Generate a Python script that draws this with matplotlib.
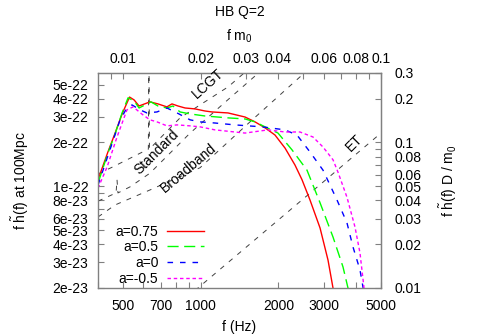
import matplotlib
matplotlib.use("Agg")
import matplotlib.pyplot as plt
from matplotlib.ticker import FixedLocator, FixedFormatter, NullFormatter

plt.rcParams['font.family'] = ['Liberation Sans', 'DejaVu Sans']
plt.rcParams['font.size'] = 10
plt.rcParams['mathtext.fontset'] = 'custom'
plt.rcParams['mathtext.rm'] = 'Liberation Sans'
plt.rcParams['mathtext.it'] = 'Liberation Sans'
plt.rcParams['lines.scale_dashes'] = False

# waveforms, f (Hz) vs f*h(f) at 100 Mpc
f_a075 = [400, 437, 466, 496, 530, 552, 577, 636, 683, 740, 774, 817, 870, 951, 1039, 1106,
          1276, 1486, 1624, 1776, 1941, 2123, 2320, 2470, 2653, 2902, 3116, 3258, 3350]
h_a075 = [1.11e-22, 1.72e-22, 2.32e-22, 3.14e-22, 4.1e-22, 3.92e-22, 3.56e-22, 3.80e-22, 3.68e-22,
          3.51e-22, 3.68e-22, 3.56e-22, 3.45e-22, 3.40e-22, 3.29e-22, 3.24e-22, 3.19e-22, 2.99e-22,
          2.77e-22, 2.52e-22, 2.25e-22, 1.83e-22, 1.40e-22, 1.11e-22, 8.05e-23, 5.17e-23, 3.11e-23,
          2.0e-23, 1.7e-23]

f_a05 = [400, 437, 466, 496, 523, 552, 577, 642, 683, 740, 781, 832, 910, 1039, 1276, 1486,
         1624, 1776, 1994, 2259, 2583, 2902, 3258, 3562, 3724, 3800]
h_a05 = [1.05e-22, 1.69e-22, 2.29e-22, 3.19e-22, 4.05e-22, 3.86e-22, 3.45e-22, 3.80e-22, 3.56e-22,
         3.45e-22, 3.56e-22, 3.24e-22, 3.14e-22, 3.04e-22, 2.95e-22, 2.90e-22, 2.77e-22, 2.56e-22,
         2.32e-22, 1.78e-22, 1.29e-22, 7.7e-23, 4.48e-23, 2.79e-23, 2.0e-23, 1.7e-23]

f_a0 = [400, 445, 487, 518, 542, 582, 619, 677, 740, 810, 910, 994, 1136, 1358, 1729, 2123,
        2362, 2653, 2980, 3376, 3691, 3894, 4145, 4257, 4320]
h_a0 = [1.02e-22, 1.78e-22, 2.86e-22, 3.45e-22, 3.62e-22, 3.35e-22, 3.19e-22, 3.24e-22, 3.45e-22,
        3.19e-22, 2.86e-22, 2.77e-22, 2.72e-22, 2.64e-22, 2.56e-22, 2.44e-22, 2.25e-22, 1.72e-22,
        1.29e-22, 8.05e-23, 5.6e-23, 3.83e-23, 2.66e-23, 2.03e-23, 1.7e-23]

f_am05 = [400, 434, 474, 518, 547, 598, 636, 677, 740, 810, 910, 994, 1136, 1486, 1824, 2123,
          2426, 2725, 2980, 3258, 3406, 3691, 3964, 4145, 4297, 4350]
h_am05 = [9.7e-23, 1.36e-22, 2.18e-22, 3.35e-22, 3.51e-22, 3.09e-22, 2.86e-22, 2.77e-22, 2.60e-22,
          2.64e-22, 2.60e-22, 2.56e-22, 2.44e-22, 2.32e-22, 2.44e-22, 2.36e-22, 2.36e-22, 2.18e-22,
          1.86e-22, 1.52e-22, 1.25e-22, 8.4e-23, 5.25e-23, 3.48e-23, 2.0e-23, 1.7e-23]

# detector noise curves
f_lcgt = [400, 457, 619, 627, 630, 633, 832, 994, 1276, 1553]
h_lcgt = [1.215e-22, 1.36e-22, 1.78e-22, 1.8e-22, 1e-21, 1.8e-22, 2.95e-22, 3.62e-22, 4.81e-22, 6.5e-22]

f_std = [400, 470, 474, 478, 532, 636, 910, 1300, 1729]
h_std = [7.9e-23, 9.0e-23, 1.11e-22, 9.0e-23, 9.9e-23, 1.23e-22, 2.32e-22, 4.05e-22, 6.3e-22]

f_bb = [400, 466, 636, 994, 1553, 2426, 2606]
h_bb = [6.15e-23, 7.44e-23, 9.43e-23, 1.34e-22, 2.77e-22, 5.64e-22, 6.3e-22]

f_et = [950, 5000]
h_et = [1.92e-23, 2.32e-22]

m0 = 2e-5        # s
scale_r = 5e20   # D/m0

xt_major = [500, 700, 1000, 2000, 3000, 5000]
xt_minor = [400, 600, 800, 900, 4000]
yt_major = [2e-23, 3e-23, 4e-23, 5e-23, 6e-23, 8e-23, 1e-22, 2e-22, 3e-22, 4e-22, 5e-22]
yt_labels = ['2e-23', '3e-23', '4e-23', '5e-23', '6e-23', '8e-23', '1e-22', '2e-22', '3e-22', '4e-22', '5e-22']
yt_minor = [7e-23, 9e-23]
top_major = [0.01, 0.02, 0.03, 0.04, 0.06, 0.08, 0.1]
top_minor = [0.009, 0.05, 0.07, 0.09]
right_major = [0.01, 0.02, 0.03, 0.04, 0.05, 0.06, 0.08, 0.1, 0.2, 0.3]
right_minor = [0.07, 0.09]

gray = '#808080'

fig = plt.figure(figsize=(4.8, 3.36), dpi=100)
ax = fig.add_axes([98/480, 48/336, 283/480, 215/336])
ax.set_xscale('log')
ax.set_yscale('log')

nkw = dict(color='#404040', lw=0.7, dashes=(3.5, 4.5))
ax.plot(f_lcgt, h_lcgt, **nkw)
ax.plot(f_std, h_std, **nkw)
ax.plot(f_bb, h_bb, **nkw)
ax.plot(f_et, h_et, **nkw)

ax.plot(f_a075, h_a075, color='#ff0000', lw=1.0, label='a=0.75')
ax.plot(f_a05, h_a05, color='#00ff00', lw=1.0, dashes=(8, 4), label='a=0.5')
ax.plot(f_a0, h_a0, color='#0000ff', lw=1.0, dashes=(4, 5), label='a=0')
ax.plot(f_am05, h_am05, color='#ff00ff', lw=1.0, dashes=(2.5, 2), label='a=-0.5')

ax.text(1068, 5.05e-22, 'LCGT', rotation=42, ha='center', va='center', rotation_mode='anchor')
ax.text(677, 1.72e-22, 'Standard', rotation=45, ha='center', va='center', rotation_mode='anchor')
ax.text(900, 1.34e-22, 'Broadband', rotation=40, ha='center', va='center', rotation_mode='anchor')
ax.text(3929, 1.98e-22, 'ET', rotation=45, ha='center', va='center', rotation_mode='anchor')

ax.set_xlim(400, 5000)
ax.set_ylim(2e-23, 6e-22)

ax.xaxis.set_major_locator(FixedLocator(xt_major))
ax.xaxis.set_major_formatter(FixedFormatter([str(v) for v in xt_major]))
ax.xaxis.set_minor_locator(FixedLocator(xt_minor))
ax.xaxis.set_minor_formatter(NullFormatter())
ax.yaxis.set_major_locator(FixedLocator(yt_major))
ax.yaxis.set_major_formatter(FixedFormatter(yt_labels))
ax.yaxis.set_minor_locator(FixedLocator(yt_minor))
ax.yaxis.set_minor_formatter(NullFormatter())
ax.tick_params(which='both', direction='in', length=4, width=0.8, color=gray, labelsize=10)
ax.tick_params(axis='x', which='both', pad=8)
ax.tick_params(axis='y', which='both', pad=7)
ax.tick_params(top=False, right=False)
for s in ax.spines.values():
    s.set_color(gray)
    s.set_linewidth(1.0)

ax.set_xlabel('f (Hz)', labelpad=5)
ax.set_ylabel(r'f $\tilde{h}$(f) at 100Mpc', labelpad=15)

top = ax.secondary_xaxis('top', functions=(lambda f: f * m0, lambda x: x / m0))
top.xaxis.set_major_locator(FixedLocator(top_major))
top.xaxis.set_major_formatter(FixedFormatter(['0.01', '0.02', '0.03', '0.04', '0.06', '0.08', '0.1']))
top.xaxis.set_minor_locator(FixedLocator(top_minor))
top.xaxis.set_minor_formatter(NullFormatter())
top.tick_params(which='both', direction='in', length=4, width=0.8, color=gray, labelsize=10, pad=5)
top.spines['top'].set_color(gray)
top.set_xlabel('f m$_0$', labelpad=8)

right = ax.secondary_yaxis('right', functions=(lambda y: y * scale_r, lambda y: y / scale_r))
right.yaxis.set_major_locator(FixedLocator(right_major))
right.yaxis.set_major_formatter(FixedFormatter(['0.01', '0.02', '0.03', '0.04', '0.05', '0.06', '0.08', '0.1', '0.2', '0.3']))
right.yaxis.set_minor_locator(FixedLocator(right_minor))
right.yaxis.set_minor_formatter(NullFormatter())
right.tick_params(which='both', direction='in', length=4, width=0.8, color=gray, labelsize=10, pad=10)
right.spines['right'].set_color(gray)
right.set_ylabel(r'f $\tilde{h}$(f) D / m$_0$', labelpad=11)

ax.legend(loc='center', bbox_to_anchor=(0.219, 0.153), markerfirst=False, frameon=False,
          handlelength=2.7, handletextpad=0.6, labelspacing=0.12, borderpad=0.2)

fig.suptitle('HB Q=2', y=0.985, fontsize=10)

fig.savefig('out.png', dpi=100)
